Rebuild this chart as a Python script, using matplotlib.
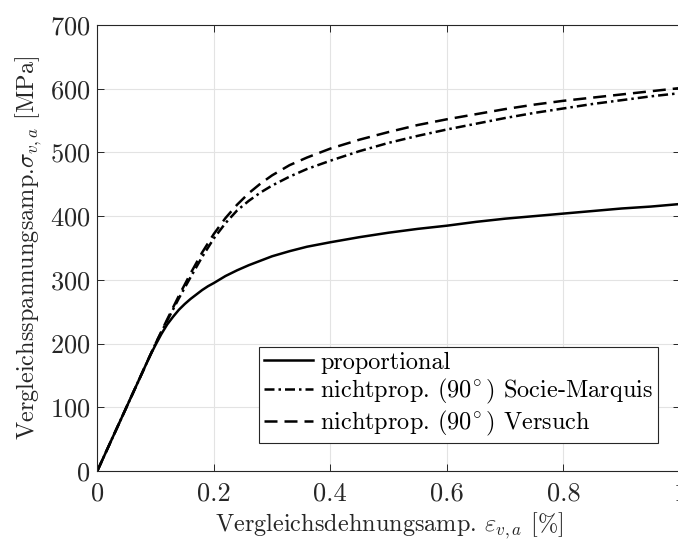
import numpy as np
import matplotlib
matplotlib.use('Agg')
from matplotlib import pyplot as plt

plt.rcParams['font.family'] = 'serif'
plt.rcParams['font.serif'] = ['cmr10']
plt.rcParams['mathtext.fontset'] = 'cm'
plt.rcParams['axes.formatter.use_mathtext'] = True

# strain amplitude [%] and stress amplitude [MPa]
eps_prop = [0, 0.05, 0.08, 0.09, 0.10, 0.11, 0.12, 0.13, 0.14, 0.15, 0.16, 0.17, 0.18,
            0.19, 0.20, 0.22, 0.24, 0.26, 0.28, 0.30, 0.33, 0.36, 0.40, 0.45, 0.50,
            0.55, 0.60, 0.65, 0.70, 0.75, 0.80, 0.85, 0.90, 0.95, 1.0]
sig_prop = [0, 100, 160, 180, 198, 215, 230, 242, 253, 262, 270, 277, 284,
            290, 295, 306, 315, 323, 330, 337, 345, 352, 359, 367, 374,
            380, 385, 391, 396, 400, 404, 408, 412, 415, 419]

eps_sm = [0, 0.05, 0.10, 0.12, 0.14, 0.16, 0.18, 0.20, 0.22, 0.24, 0.26, 0.28, 0.30,
          0.33, 0.36, 0.40, 0.45, 0.50, 0.55, 0.60, 0.65, 0.70, 0.75, 0.80, 0.85,
          0.90, 0.95, 1.0]
sig_sm = [0, 100, 200, 236, 271, 304, 336, 365, 389, 409, 424, 437, 448,
          462, 474, 487, 502, 515, 526, 536, 545, 554, 562, 569, 576,
          582, 588, 593]

eps_vs = [0, 0.05, 0.10, 0.12, 0.14, 0.16, 0.18, 0.20, 0.22, 0.24, 0.26, 0.28, 0.30,
          0.33, 0.36, 0.40, 0.45, 0.50, 0.55, 0.60, 0.65, 0.70, 0.75, 0.80, 0.85,
          0.90, 0.95, 1.0]
sig_vs = [0, 100, 200, 238, 275, 310, 343, 372, 397, 418, 436, 451, 464,
          480, 492, 506, 520, 532, 543, 552, 560, 568, 575, 581, 586,
          591, 596, 601]

fig = plt.figure(figsize=(6.78, 5.43), dpi=100)
ax = fig.add_axes([0.1435, 0.1326, 0.8594, 0.8214])

lw = 1.8
ax.plot(eps_prop, sig_prop, 'k-', linewidth=lw, label='proportional')
ax.plot(eps_sm, sig_sm, 'k-.', linewidth=lw, dashes=(4, 1.6, 1, 1.6),
        label=r'nichtprop. $(90^{\!\circ})$ Socie-Marquis')
ax.plot(eps_vs, sig_vs, 'k--', linewidth=lw, dashes=(5.2, 2.8),
        label=r'nichtprop. $(90^{\!\circ})$ Versuch')

ax.set_xlim(0, 1)
ax.set_ylim(0, 700)
ax.set_xticks([0, 0.2, 0.4, 0.6, 0.8, 1])
ax.set_xticklabels(['0', '0.2', '0.4', '0.6', '0.8', '1'])
ax.set_yticks(np.arange(0, 701, 100))
ax.tick_params(direction='in', top=True, right=True, length=5, width=0.7,
               labelsize=19, colors='#262626', pad=5)
ax.tick_params(axis='x', pad=8)
for s in ax.spines.values():
    s.set_linewidth(0.8)
    s.set_color('#262626')
ax.grid(True, color='#e3e3e3', linewidth=0.8)
ax.set_axisbelow(True)

ax.set_xlabel(r'Vergleichsdehnungsamp. $\varepsilon_{v,a}$ [%]', fontsize=17.5,
              color='#262626', labelpad=3)
ax.set_ylabel(r'Vergleichsspannungsamp.$\sigma_{v,a}$ [MPa]', fontsize=17.5,
              color='#262626', labelpad=4)

leg = ax.legend(loc='lower right', bbox_to_anchor=(0.962, 0.063), borderaxespad=0,
                fontsize=17.5, handlelength=2.0, handletextpad=0.3, fancybox=False,
                framealpha=1, edgecolor='#262626', borderpad=0.2, labelspacing=0.12)
leg.get_frame().set_linewidth(0.8)

fig.savefig('out.png', dpi=100)
